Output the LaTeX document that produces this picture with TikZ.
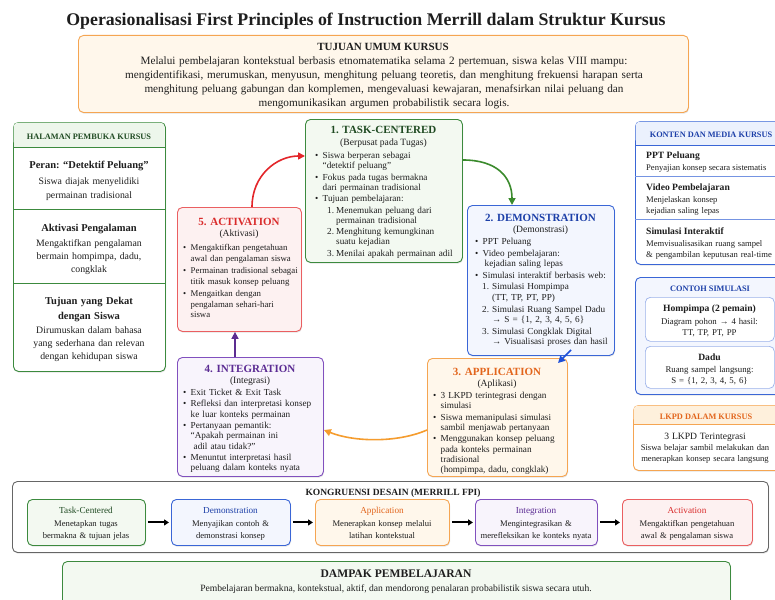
\documentclass[tikz,border=0pt]{standalone}
\usepackage{fontspec}
\setmainfont{Liberation Serif}
\usetikzlibrary{arrows.meta,shadows,calc}
\definecolor{gC}{HTML}{3C8A3E}
\definecolor{gF}{HTML}{F3F9F1}
\definecolor{gH}{HTML}{EDF6EB}
\definecolor{gT}{HTML}{1F4A22}
\definecolor{bC}{HTML}{3A66D6}
\definecolor{bF}{HTML}{F3F6FE}
\definecolor{bH}{HTML}{EBF1FD}
\definecolor{bT}{HTML}{1C3FA8}
\definecolor{oC}{HTML}{F5A552}
\definecolor{oF}{HTML}{FFF7EB}
\definecolor{oH}{HTML}{FEF0DC}
\definecolor{oT}{HTML}{E2651C}
\definecolor{pC}{HTML}{8150BE}
\definecolor{pF}{HTML}{F8F4FC}
\definecolor{pT}{HTML}{5B2B93}
\definecolor{rC}{HTML}{EA5F61}
\definecolor{rF}{HTML}{FDF1F1}
\definecolor{rT}{HTML}{D92B2B}
\definecolor{kC}{HTML}{666666}
\definecolor{txt}{HTML}{1E1E1E}
\definecolor{aR}{HTML}{E3262A}
\definecolor{aG}{HTML}{3A8A2C}
\definecolor{aB}{HTML}{1D4FD8}
\definecolor{aO}{HTML}{F59C2E}
\definecolor{aP}{HTML}{5C2D91}
\newcommand{\bul}[1]{\hangindent=7.5pt\hangafter=1\noindent\makebox[7.5pt][l]{\textbullet}#1}
\newcommand{\nit}[4]{\hangindent=#2\hangafter=1\noindent\hspace*{#1}\makebox[\dimexpr#2-#1\relax][l]{#3.}#4}
\newcommand{\isep}{\par\vspace{1pt}}
\tikzset{
  panel/.style={rectangle, rounded corners=5pt, line width=0.9pt, inner sep=0pt, anchor=north west, fill=white},
  shad/.style={drop shadow={shadow xshift=0.6pt, shadow yshift=-1.2pt, opacity=0.18, fill=black!60}},
  ttl/.style={font=\fontsize{11}{13}\selectfont\bfseries, anchor=base, inner sep=0pt},
  subt/.style={font=\fontsize{9.6}{11}\selectfont, anchor=base, inner sep=0pt},
  blist/.style={anchor=base west, inner sep=0pt, align=left, font=\fontsize{9.2}{10.3}\selectfont},
  ctr/.style={anchor=base, inner sep=0pt, align=center},
  lft/.style={anchor=base west, inner sep=0pt, align=left},
  hdr/.style={font=\fontsize{8.3}{10}\selectfont\bfseries, anchor=base, inner sep=0pt},
  cyc/.style={line width=1.6pt, -{Triangle[length=7pt,width=7pt]}},
  karr/.style={line width=2pt, -{Triangle[length=5pt,width=6pt]}, black, shorten <=2pt, shorten >=2pt},
  sepl/.style={line width=0.7pt},
}
\begin{document}
\begin{tikzpicture}[x=1pt,y=-1pt, every node/.style={text=txt}]
\useasboundingbox (0,0) rectangle (775,599);
\fill[white] (0,0) rectangle (775,599);

% title
\node[font=\fontsize{17.8}{20}\selectfont\bfseries, anchor=base, inner sep=0pt] (title) at (366,26) {Operasionalisasi First Principles of Instruction Merrill dalam Struktur Kursus};

% goal box
\node[panel, draw=oC, fill=oF, shad, minimum width=610, minimum height=77] (goal) at (78,35) {};
\node[ttl] (goalT) at (383,51) {TUJUAN UMUM KURSUS};
\node[ctr, text width=604, font=\fontsize{11.2}{14}\selectfont] (goalB) at (384,65) {Melalui pembelajaran kontekstual berbasis etnomatematika selama 2 pertemuan, siswa kelas VIII mampu:\\mengidentifikasi, merumuskan, menyusun, menghitung peluang teoretis, dan menghitung frekuensi harapan serta\\menghitung peluang gabungan dan komplemen, mengevaluasi kewajaran, menafsirkan nilai peluang dan\\mengomunikasikan argumen probabilistik secara logis.};

% left panel
\node[panel, draw=gC, shad, minimum width=152, minimum height=249] (lp) at (13,122) {};
\fill[gH, rounded corners=4.5pt] (13.5,122.5) rectangle (164.5,146);
\fill[gH] (13.5,138) rectangle (164.5,147);
\draw[gC, sepl] (13,147) -- (165,147);
\draw[gC, sepl] (13,209) -- (165,209);
\draw[gC, sepl] (13,283) -- (165,283);
\node[hdr, text=gT] (lpH) at (89,139.5) {HALAMAN PEMBUKA KURSUS};
\node[ctr, font=\fontsize{10.5}{13}\selectfont\bfseries] (lp1T) at (89,168.5) {Peran: “Detektif Peluang”};
\node[ctr, text width=148, font=\fontsize{9.8}{13.5}\selectfont] (lp1B) at (89,184.5) {Siswa diajak menyelidiki\\permainan tradisional};
\node[ctr, font=\fontsize{10.5}{13}\selectfont\bfseries] (lp2T) at (89,231.5) {Aktivasi Pengalaman};
\node[ctr, text width=148, font=\fontsize{9.8}{13}\selectfont] (lp2B) at (89,246.5) {Mengaktifkan pengalaman\\bermain hompimpa, dadu,\\congklak};
\node[ctr, text width=148, font=\fontsize{10.5}{14.5}\selectfont\bfseries] (lp3T) at (89,304.5) {Tujuan yang Dekat\\dengan Siswa};
\node[ctr, text width=150, font=\fontsize{9.8}{13}\selectfont] (lp3B) at (89,333.5) {Dirumuskan dalam bahasa\\yang sederhana dan relevan\\dengan kehidupan siswa};

% 1 task-centered
\node[panel, draw=gC, fill=gF, shad, minimum width=157, minimum height=143] (tc) at (305,119) {};
\node[ttl, text=gT] (tcT) at (383.5,133.5) {1. TASK-CENTERED};
\node[subt] (tcS) at (383.5,145) {(Berpusat pada Tugas)};
\node[blist, text width=145] (tcB) at (315,158.5) {\bul{Siswa berperan sebagai\newline “detektif peluang”}\isep\bul{Fokus pada tugas bermakna\newline dari permainan tradisional}\isep\bul{Tujuan pembelajaran:}\isep\nit{12pt}{21pt}{1}{Menemukan peluang dari\newline permainan tradisional}\isep\nit{12pt}{21pt}{2}{Menghitung kemungkinan\newline suatu kejadian}\isep\nit{12pt}{21pt}{3}{Menilai apakah permainan adil}\par};

% 5 activation
\node[panel, draw=rC, fill=rF, shad, minimum width=124, minimum height=124] (act) at (177,207) {};
\node[ttl, text=rT] (actT) at (239,225) {5. ACTIVATION};
\node[subt] (actS) at (239,236.5) {(Aktivasi)};
\node[blist, text width=118, font=\fontsize{8.8}{10.9}\selectfont] (actB) at (183,250.5) {\bul{Mengaktifkan pengetahuan\newline awal dan pengalaman siswa}\isep\bul{Permainan tradisional sebagai\newline titik masuk konsep peluang}\isep\bul{Mengaitkan dengan\newline pengalaman sehari-hari\newline siswa}\par};

% 2 demonstration
\node[panel, draw=bC, fill=bF, shad, minimum width=147, minimum height=150] (demo) at (467,205) {};
\node[ttl, text=bT] (demoT) at (540.5,221.5) {2. DEMONSTRATION};
\node[subt] (demoS) at (540.5,232.5) {(Demonstrasi)};
\node[blist, text width=142, font=\fontsize{9.2}{10.6}\selectfont] (demoB) at (475,244.5) {\bul{PPT Peluang}\isep\bul{Video pembelajaran:\newline\hspace*{2pt}kejadian saling lepas}\isep\bul{Simulasi interaktif berbasis web:}\isep\nit{7pt}{17pt}{1}{Simulasi Hompimpa\newline (TT, TP, PT, PP)}\isep\nit{7pt}{17pt}{2}{Simulasi Ruang Sampel Dadu\newline → S = \{1, 2, 3, 4, 5, 6\}}\isep\nit{7pt}{17pt}{3}{Simulasi Congklak Digital\newline → Visualisasi proses dan hasil}\par};

% 3 application
\node[panel, draw=oC, fill=oF, shad, minimum width=140, minimum height=118] (app) at (427,358) {};
\node[ttl, text=oT] (appT) at (497,375.5) {3. APPLICATION};
\node[subt] (appS) at (497,386.5) {(Aplikasi)};
\node[blist, text width=134] (appB) at (433,398.5) {\bul{3 LKPD terintegrasi dengan\newline simulasi}\isep\bul{Siswa memanipulasi simulasi\newline sambil menjawab pertanyaan}\isep\bul{Menggunakan konsep peluang\newline pada konteks permainan\newline tradisional\newline (hompimpa, dadu, congklak)}\par};

% 4 integration
\node[panel, draw=pC, fill=pF, shad, minimum width=146, minimum height=119] (integ) at (177,357) {};
\node[ttl, text=pT] (integT) at (250,372) {4. INTEGRATION};
\node[subt] (integS) at (250,383) {(Integrasi)};
\node[blist, text width=140] (integB) at (183,395.5) {\bul{Exit Ticket \& Exit Task}\isep\bul{Refleksi dan interpretasi konsep\newline ke luar konteks permainan}\isep\bul{Pertanyaan pemantik:\newline “Apakah permainan ini\newline\hspace*{3pt}adil atau tidak?”}\isep\bul{Menuntut interpretasi hasil\newline peluang dalam konteks nyata}\par};

% cycle arrows
\coordinate (rS) at (252,0);
\coordinate (rE) at (0,156);
\coordinate (gS) at (0,160);
\coordinate (gE) at (512,0);
\coordinate (bS) at (571,350);
\coordinate (bE) at (558,363);
\coordinate (oY) at (0,430);
\coordinate (pX) at (235,0);
\draw[cyc, aR] (act.north -| rS) .. controls +(0,-32) and +(-28,0) .. (tc.west |- rE);
\draw[cyc, aG] (tc.east |- gS) .. controls +(34,0) and +(0,-28) .. (demo.north -| gE);
\draw[cyc, aB] (bS) -- (bE);
\draw[cyc, aO] (app.west |- oY) .. controls +(-30,13) and +(30,12) .. (integ.east |- oY);
\draw[cyc, aP] (integ.north -| pX) -- (act.south -| pX);

% konten panel
\node[panel, draw=bC, shad, minimum width=156, minimum height=143] (kon) at (635,121) {};
\fill[bH, rounded corners=4.5pt] (635.5,121.5) rectangle (790,144);
\fill[bH] (635.5,136) rectangle (790,145);
\draw[bC, sepl] (635,145) -- (791,145);
\draw[bC!70, sepl] (635,176) -- (791,176);
\draw[bC!70, sepl] (635,219) -- (791,219);
\node[hdr, text=bT] (konH) at (711,137.5) {KONTEN DAN MEDIA KURSUS};
\node[lft, font=\fontsize{9.6}{11}\selectfont\bfseries] (kon1T) at (646,158.5) {PPT Peluang};
\node[lft, font=\fontsize{8.6}{11}\selectfont] (kon1B) at (646,170) {Penyajian konsep secara sistematis};
\node[lft, font=\fontsize{9.6}{11}\selectfont\bfseries] (kon2T) at (646,190) {Video Pembelajaran};
\node[lft, text width=128, font=\fontsize{8.6}{11.5}\selectfont] (kon2B) at (646,202) {Menjelaskan konsep\\kejadian saling lepas};
\node[lft, font=\fontsize{9.6}{11}\selectfont\bfseries] (kon3T) at (646,234) {Simulasi Interaktif};
\node[lft, text width=128, font=\fontsize{8.6}{11.5}\selectfont] (kon3B) at (646,246) {Memvisualisasikan ruang sampel\\\& pengambilan keputusan real-time};

% contoh simulasi
\node[panel, draw=bC, fill=bF, shad, minimum width=156, minimum height=117] (con) at (635,277) {};
\node[hdr, text=bT] (conH) at (710,291) {CONTOH SIMULASI};
\node[panel, draw=bC!50, line width=0.7pt, minimum width=129, minimum height=44] (con1) at (645,297) {};
\node[ctr, font=\fontsize{9.6}{11}\selectfont\bfseries] (con1T) at (709.5,311.5) {Hompimpa (2 pemain)};
\node[ctr, text width=128, font=\fontsize{8.8}{11}\selectfont] (con1B) at (709.5,324) {Diagram pohon → 4 hasil:\\TT, TP, PT, PP};
\node[panel, draw=bC!50, line width=0.7pt, minimum width=129, minimum height=42] (con2) at (645,346) {};
\node[ctr, font=\fontsize{9.6}{11}\selectfont\bfseries] (con2T) at (709.5,360) {Dadu};
\node[ctr, text width=128, font=\fontsize{8.8}{11}\selectfont] (con2B) at (709.5,372) {Ruang sampel langsung:\\S = \{1, 2, 3, 4, 5, 6\}};

% lkpd
\node[panel, draw=oC, shad, minimum width=158, minimum height=65] (lk) at (633,405) {};
\fill[oH, rounded corners=4.5pt] (633.5,405.5) rectangle (790,423);
\fill[oH] (633.5,415) rectangle (790,424);
\draw[oC, sepl] (633,424) -- (791,424);
\node[hdr, text=oT] (lkH) at (706,419.5) {LKPD DALAM KURSUS};
\node[ctr, text width=138, font=\fontsize{8.6}{11}\selectfont] (lkB) at (705,439.5) {{\fontsize{9.6}{11}\selectfont 3 LKPD Terintegrasi}\\Siswa belajar sambil melakukan dan\\menerapkan konsep secara langsung};

% kongruensi
\node[panel, draw=kC, shad, minimum width=756, minimum height=71] (kong) at (12,481) {};
\node[ctr, font=\fontsize{9.5}{11}\selectfont\bfseries] (kongT) at (393,495.5) {KONGRUENSI DESAIN (MERRILL FPI)};
\node[panel, draw=gC, fill=gF, shad, minimum width=118, minimum height=46] (k1) at (27,499) {};
\node[panel, draw=bC, fill=bF, shad, minimum width=119, minimum height=46] (k2) at (171,499) {};
\node[panel, draw=oC, fill=oF, shad, minimum width=134, minimum height=46] (k3) at (315,499) {};
\node[panel, draw=pC, fill=pF, shad, minimum width=122, minimum height=46] (k4) at (475,499) {};
\node[panel, draw=rC, fill=rF, shad, minimum width=130, minimum height=46] (k5) at (622,499) {};
\node[ctr, font=\fontsize{9.2}{11}\selectfont, text=gT] (k1T) at (86,513.5) {Task-Centered};
\node[ctr, text width=116, font=\fontsize{8.6}{12}\selectfont] (k1B) at (86,526.5) {Menetapkan tugas\\bermakna \& tujuan jelas};
\node[ctr, font=\fontsize{9.2}{11}\selectfont, text=bT] (k2T) at (230.5,513.5) {Demonstration};
\node[ctr, text width=117, font=\fontsize{8.6}{12}\selectfont] (k2B) at (230.5,526.5) {Menyajikan contoh \&\\demonstrasi konsep};
\node[ctr, font=\fontsize{9.2}{11}\selectfont, text=oT] (k3T) at (382,513.5) {Application};
\node[ctr, text width=132, font=\fontsize{8.6}{12}\selectfont] (k3B) at (382,526.5) {Menerapkan konsep melalui\\latihan kontekstual};
\node[ctr, font=\fontsize{9.2}{11}\selectfont, text=pT] (k4T) at (536,513.5) {Integration};
\node[ctr, text width=122, font=\fontsize{8.6}{12}\selectfont] (k4B) at (536,526.5) {Mengintegrasikan \&\\merefleksikan ke konteks nyata};
\node[ctr, font=\fontsize{9.2}{11}\selectfont, text=rT] (k5T) at (687,513.5) {Activation};
\node[ctr, text width=128, font=\fontsize{8.6}{12}\selectfont] (k5B) at (687,526.5) {Mengaktifkan pengetahuan\\awal \& pengalaman siswa};
\draw[karr] (k1.east) -- (k2.west);
\draw[karr] (k2.east) -- (k3.west);
\draw[karr] (k3.east) -- (k4.west);
\draw[karr] (k4.east) -- (k5.west);

% dampak
\node[panel, draw=gC, fill=gF, shad, minimum width=668, minimum height=50] (damp) at (62,561) {};
\node[ttl, font=\fontsize{11.6}{13}\selectfont\bfseries] (dampT) at (396,577.5) {DAMPAK PEMBELAJARAN};
\node[ctr, font=\fontsize{9.6}{11}\selectfont] (dampB) at (396,591.5) {Pembelajaran bermakna, kontekstual, aktif, dan mendorong penalaran probabilistik siswa secara utuh.};
\end{tikzpicture}
\end{document}
